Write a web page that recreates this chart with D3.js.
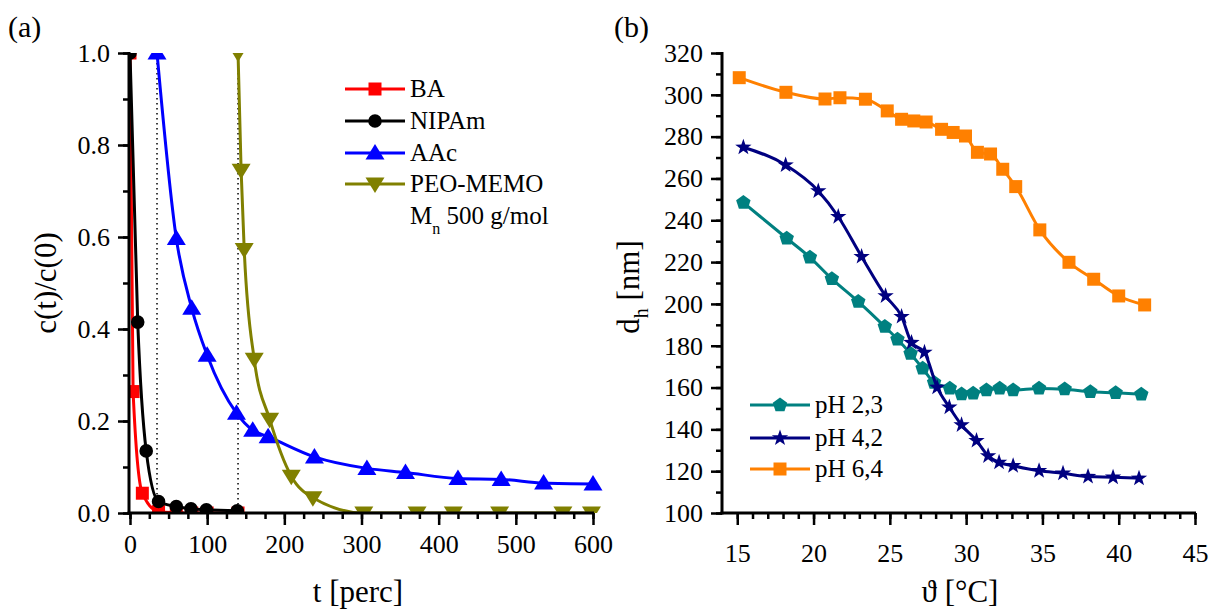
<!DOCTYPE html>
<html>
<head>
<meta charset="utf-8">
<script src="https://cdn.jsdelivr.net/npm/d3@7"></script>
<style>
  body { margin: 0; background: #fff; }
  svg text { font-family: "Liberation Serif", "Times New Roman", serif; fill: #000; }
</style>
</head>
<body>
<svg id="chart" width="1210" height="612"></svg>
<script>
// ---- panel (a): c(t)/c(0) vs t ----
var baT    = [0, 4, 16, 37, 60, 80, 100, 140];
var baC    = [1.0, 0.264, 0.043, 0.003, 0.001, 0, 0, 0];
var nipamT = [0, 10, 21, 37, 60, 79, 99, 139];
var nipamC = [1.0, 0.415, 0.135, 0.025, 0.014, 0.009, 0.007, 0.005];
var aacT   = [35, 60, 80, 100, 138, 159, 179, 239, 307, 357, 425, 481, 536, 600];
var aacC   = [1.0, 0.597, 0.445, 0.343, 0.217, 0.180, 0.166, 0.122, 0.097, 0.088, 0.075, 0.073, 0.065, 0.063];
var peoT   = [140, 144, 148, 161, 181, 209, 237, 303, 372, 419, 479, 561, 598];
var peoC   = [1.0, 0.745, 0.573, 0.334, 0.204, 0.080, 0.033, 0, 0, 0, 0, 0, 0];
var dotT   = [35, 140];

var aXTicks = [0, 100, 200, 300, 400, 500, 600];
var aYTicks = [0, 0.2, 0.4, 0.6, 0.8, 1.0];

// ---- panel (b): d_h vs temperature ----
var ph23T = [15.4, 18.24, 19.76, 21.2, 22.93, 24.67, 25.5, 26.36, 27.15, 27.9, 28.93, 29.7, 30.46, 31.33, 32.2, 33.08, 34.78, 36.46, 38.14, 39.8, 41.48];
var ph23D = [248.4, 231.4, 222.3, 212.0, 201.1, 189.1, 183.1, 176.2, 169.2, 162.4, 159.6, 156.9, 157.2, 158.8, 159.6, 158.8, 159.6, 159.2, 158.0, 157.5, 156.8];
var ph42T = [15.4, 18.17, 20.31, 21.62, 23.15, 24.72, 25.77, 26.42, 27.27, 28.1, 28.9, 29.7, 30.68, 31.44, 32.16, 33.08, 34.78, 36.35, 37.99, 39.63, 41.33];
var ph42D = [274.9, 266.4, 254.0, 241.7, 222.6, 203.8, 193.9, 181.5, 176.8, 160.1, 150.6, 142.1, 134.6, 127.3, 124.2, 122.6, 120.2, 119.0, 117.4, 117.1, 116.6];
var ph64T = [15.13, 18.19, 20.75, 21.73, 23.4, 24.83, 25.77, 26.57, 27.38, 28.39, 29.15, 29.96, 30.74, 31.6, 32.4, 33.25, 34.83, 36.74, 38.36, 40.0, 41.7];
var ph64D = [308.2, 301.2, 298.0, 298.6, 297.9, 292.3, 288.3, 287.5, 287.0, 283.5, 282.0, 280.3, 272.5, 271.7, 264.4, 256.1, 235.4, 219.9, 211.8, 203.8, 199.5];

var bXTicks = [15, 20, 25, 30, 35, 40, 45];
var bYTicks = [100, 120, 140, 160, 180, 200, 220, 240, 260, 280, 300, 320];

var FONT = "'Liberation Serif', 'Times New Roman', serif";
var svg = d3.select("#chart").attr("font-family", FONT);

// marker shapes
function shapePath(kind) {
  var p = d3.path();
  if (kind == "square") {
    p.rect(-6.5, -6.5, 13, 13);
  } else if (kind == "circle") {
    p.arc(0, 0, 6.8, 0, 2 * Math.PI);
  } else if (kind == "up") {
    p.moveTo(0, -9); p.lineTo(9.5, 6.5); p.lineTo(-9.5, 6.5); p.closePath();
  } else if (kind == "down") {
    p.moveTo(0, 9); p.lineTo(9.5, -6.5); p.lineTo(-9.5, -6.5); p.closePath();
  } else if (kind == "star") {
    for (var i = 0; i < 10; i++) {
      var r = i % 2 ? 3.4 : 8.6, a = -Math.PI / 2 + i * Math.PI / 5;
      if (i == 0) p.moveTo(r * Math.cos(a), r * Math.sin(a)); else p.lineTo(r * Math.cos(a), r * Math.sin(a));
    }
    p.closePath();
  } else if (kind == "pent") {
    for (var j = 0; j < 5; j++) {
      var b = -Math.PI / 2 + j * 2 * Math.PI / 5;
      if (j == 0) p.moveTo(7.6 * Math.cos(b), 7.6 * Math.sin(b)); else p.lineTo(7.6 * Math.cos(b), 7.6 * Math.sin(b));
    }
    p.closePath();
  }
  return p.toString();
}

function drawSeries(g, x, y, xs, ys, color, kind) {
  var pts = xs.map(function(v, i) { return [v, ys[i]]; });
  var line = d3.line()
    .x(function(d) { return x(d[0]); })
    .y(function(d) { return y(d[1]); })
    .curve(d3.curveMonotoneX);
  g.append("path")
    .attr("d", line(pts))
    .attr("fill", "none")
    .attr("stroke", color)
    .attr("stroke-width", 3);
  g.selectAll(null).data(pts).enter().append("path")
    .attr("d", shapePath(kind))
    .attr("transform", function(d) { return "translate(" + x(d[0]) + "," + y(d[1]) + ")"; })
    .attr("fill", color);
}

function drawAxes(x, y, o) {
  var g = svg.append("g");
  var x0 = o.axisX, y0 = y.range()[0];
  // minor + major ticks, bottom
  g.append("g").attr("transform", "translate(0," + y0 + ")")
    .call(d3.axisBottom(x).tickValues(o.xMinor).tickSize(6).tickFormat(""));
  g.append("g").attr("transform", "translate(0," + y0 + ")")
    .call(d3.axisBottom(x).tickValues(o.xMajor).tickSize(12).tickPadding(o.xPad).tickFormat(o.xFmt));
  // left
  g.append("g").attr("transform", "translate(" + x0 + ",0)")
    .call(d3.axisLeft(y).tickValues(o.yMinor).tickSize(6).tickFormat(""));
  g.append("g").attr("transform", "translate(" + x0 + ",0)")
    .call(d3.axisLeft(y).tickValues(o.yMajor).tickSize(11).tickPadding(8).tickFormat(o.yFmt));
  g.selectAll(".domain").remove();
  g.selectAll("g").attr("font-family", FONT).attr("font-size", 26);
  g.selectAll(".tick line").attr("stroke", "#000").attr("stroke-width", 2.5);
  g.selectAll(".tick text")
    .style("font-family", FONT).style("font-size", "26px").attr("fill", "#000");
  g.append("line").attr("x1", x0).attr("x2", x0)
    .attr("y1", y.range()[1] - 1).attr("y2", y0 + 1.5)
    .attr("stroke", "#000").attr("stroke-width", 3);
  g.append("line").attr("x1", x0 - 1.5).attr("x2", o.xEnd)
    .attr("y1", y0).attr("y2", y0)
    .attr("stroke", "#000").attr("stroke-width", 3);
}

function legendRow(g, lx, ly, color, kind, label) {
  g.append("line").attr("x1", lx).attr("x2", lx + 60).attr("y1", ly).attr("y2", ly)
    .attr("stroke", color).attr("stroke-width", 3);
  g.append("path").attr("d", shapePath(kind))
    .attr("transform", "translate(" + (lx + 30) + "," + ly + ")").attr("fill", color);
  return g.append("text").attr("x", lx + 65).attr("y", ly + 8).style("font-size", "25px").text(label);
}

// ================= panel (a) =================
var xA = d3.scaleLinear().domain([0, 600]).range([130, 593]);
var yA = d3.scaleLinear().domain([0, 1]).range([513, 53]);

svg.append("defs").append("clipPath").attr("id", "clipA")
  .append("rect").attr("x", 128).attr("y", 53).attr("width", 490).attr("height", 460);

var gA = svg.append("g").attr("clip-path", "url(#clipA)");
gA.selectAll(null).data(dotT).enter().append("line")
  .attr("x1", function(d) { return xA(d); }).attr("x2", function(d) { return xA(d); })
  .attr("y1", yA(1)).attr("y2", yA(0))
  .attr("stroke", "#000").attr("stroke-width", 1.5).attr("stroke-dasharray", "1.5,3.5");

drawSeries(gA, xA, yA, baT, baC, "#ff0000", "square");
drawSeries(gA, xA, yA, nipamT, nipamC, "#000000", "circle");
drawSeries(gA, xA, yA, aacT, aacC, "#0000ff", "up");
drawSeries(gA, xA, yA, peoT, peoC, "#808000", "down");

drawAxes(xA, yA, {
  axisX: 129, xEnd: 594,
  xMajor: aXTicks, xMinor: d3.range(0, 601, 25), xPad: 10, xFmt: d3.format("d"),
  yMajor: aYTicks, yMinor: d3.range(0, 11).map(function(i) { return i / 10; }), yFmt: d3.format(".1f")
});

var legA = svg.append("g");
legendRow(legA, 345, 89, "#ff0000", "square", "BA");
legendRow(legA, 345, 121, "#000000", "circle", "NIPAm");
legendRow(legA, 345, 153, "#0000ff", "up", "AAc");
legendRow(legA, 345, 184, "#808000", "down", "PEO-MEMO");
var mn = legA.append("text").attr("x", 410).attr("y", 224).style("font-size", "25px");
mn.append("tspan").text("M");
mn.append("tspan").attr("dy", 10).style("font-size", "16px").text("n");
mn.append("tspan").attr("dy", -10).text("\u00a0500 g/mol");

svg.append("text").attr("x", 8).attr("y", 37).style("font-size", "30px").text("(a)");
svg.append("text").attr("x", 358).attr("y", 602).attr("text-anchor", "middle")
  .style("font-size", "31px").text("t [perc]");
svg.append("text").attr("transform", "translate(56,283) rotate(-90)").attr("text-anchor", "middle")
  .style("font-size", "31px").text("c(t)/c(0)");

// ================= panel (b) =================
var xB = d3.scaleLinear().domain([14, 45]).range([722, 1195]);
var yB = d3.scaleLinear().domain([100, 320]).range([513, 53]);

var gB = svg.append("g");
drawSeries(gB, xB, yB, ph23T, ph23D, "#008080", "pent");
drawSeries(gB, xB, yB, ph42T, ph42D, "#000080", "star");
drawSeries(gB, xB, yB, ph64T, ph64D, "#ff8000", "square");

drawAxes(xB, yB, {
  axisX: 722, xEnd: 1196,
  xMajor: bXTicks, xMinor: d3.range(15, 46, 1), xPad: 19, xFmt: d3.format("d"),
  yMajor: bYTicks, yMinor: d3.range(100, 321, 10), yFmt: d3.format("d")
});

var legB = svg.append("g");
legendRow(legB, 750, 405, "#008080", "pent", "pH 2,3");
legendRow(legB, 750, 438, "#000080", "star", "pH 4,2");
legendRow(legB, 750, 469, "#ff8000", "square", "pH 6,4");

svg.append("text").attr("x", 614).attr("y", 37).style("font-size", "30px").text("(b)");
svg.append("text").attr("x", 960).attr("y", 602).attr("text-anchor", "middle")
  .style("font-size", "31px").text("\u03d1 [\u00b0C]");
var dh = svg.append("text").attr("transform", "translate(639,287) rotate(-90)").attr("text-anchor", "middle")
  .style("font-size", "31px");
dh.append("tspan").text("d");
dh.append("tspan").attr("dy", 9).style("font-size", "20px").text("h");
dh.append("tspan").attr("dy", -9).text(" [nm]");
</script>
</body>
</html>
